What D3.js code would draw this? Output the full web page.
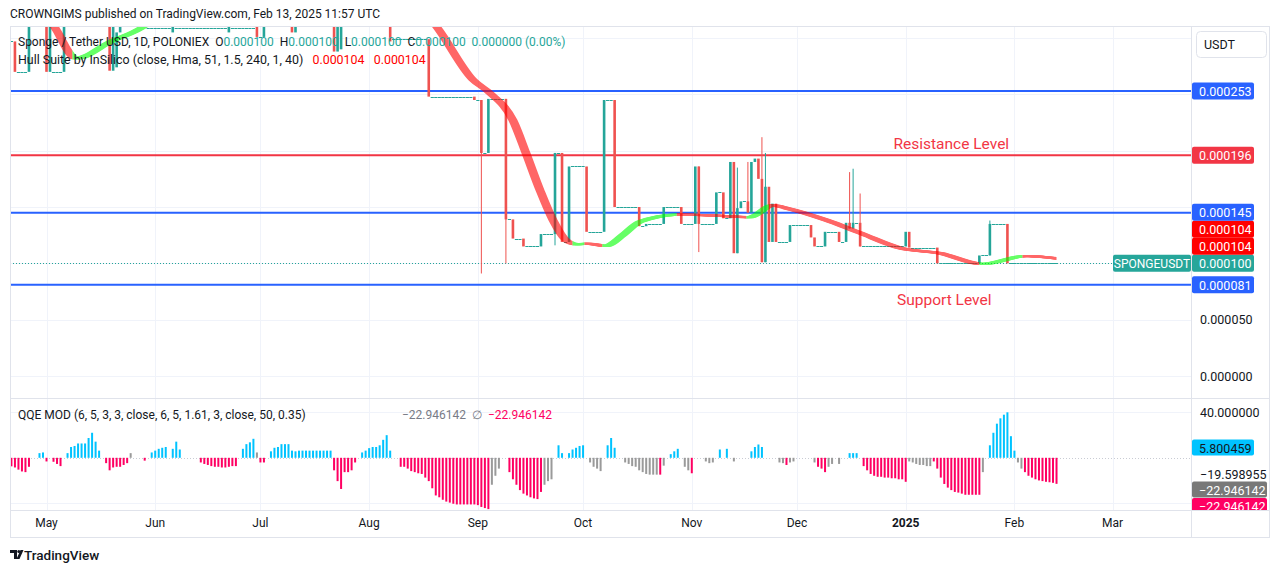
<!DOCTYPE html>
<html>
<head>
<meta charset="utf-8">
<script src="https://cdn.jsdelivr.net/npm/d3@7/dist/d3.min.js"></script>
<style>
html,body{margin:0;padding:0;background:#fff;}
svg{display:block;}
text{font-family:Roboto,"Liberation Sans",Arial,sans-serif;}
</style>
</head>
<body>
<svg id="chart" width="1281" height="573"></svg>
<script>
// ================= DATA =================
const firstCandleDate = "2024-04-21";   // index 0
// daily close, USDT x 1e6
const closeE6 = [
 297,270,270,270,270,350,345,355,350,352,
 270,345,270,270,270,335,340,338,345,342,
 348,350,345,348,352,350,345,345,271,345,
 305,340,338,335,330,325,320,318,315,309,
 309,309,309,309,309,309,315,309,309,309,
 309,309,309,309,309,309,309,309,309,309,
 309,309,315,309,309,309,309,309,309,309,
 301,301,330,335,340,338,342,340,336,335,
 305,330,335,338,340,342,345,343,340,342,
 340,340,288,340,342,342,345,348,350,348,
 345,342,340,338,340,342,338,335,297,299,
 299,299,299,299,299,299,299,299,299,248,
 248,248,248,248,248,248,248,248,248,248,
 248,248,245,245,198,198,246,246,246,246,
 246,139,139,122,122,122,115,115,115,115,
 115,126,126,126,126,198,198,119,119,186,
 186,186,186,186,128,128,128,128,128,245,
 245,245,150,150,150,150,150,150,150,133,
 133,135,135,135,135,135,150,150,150,150,
 150,135,135,135,135,186,135,135,135,135,
 135,163,163,140,140,190,109,149,155,155,
 145,190,193,175,101,168,119,153,119,119,
 119,119,134,134,134,134,134,134,123,115,
 115,115,128,128,128,128,119,119,136,131,
 136,136,115,115,115,115,115,115,115,115,
 115,115,115,115,115,128,114,114,114,114,
 114,114,114,114,100,100,100,100,100,100,
 100,100,100,100,100,100,107,107,107,135,
 135,135,135,135,100,100,100,100,100,100,
 100,100,100,100,100,100,100,100,100
];
// opens that differ from the previous close: [index, open x1e6]
const openOverrides = [[0,297],[12,270],[30,274],[39,309],[46,305],[47,309],[62,305],[63,309],[70,325],[94,290],[109,299]];
// wicks beyond the body
const wickIndex  = [134,141,155,196,207,210,214,215,239,240,242,279];
const wickHighE6 = [null,null,null,null,185,190,212,198,181,184,162,138];
const wickLowE6  = [91,100,116,110,null,null,null,null,null,null,null,null];

// Hull Suite line: day offset from 2024-05-01 and value x1e6
const hullDay = [-10,-4,1,7.4,17.4,27,35,50,80,95,103,110,120.6,125.5,132,135.7,139.7,143.4,147.1,150,153.4,158.5,163.3,168.3,179.7,189,199.6,206,210,221.3,231,242.4,253.8,266,278.3,288];
const hullE6  = [345,328,311,282,297,311,335,345,350,345,335,311,263,251,227,198,165,138.5,120.7,117,117.5,115.4,125,137,143.3,142.5,141,151.5,149,138.5,127,113.6,109,99.4,106.5,104];

// QQE MOD histogram (same days as candles), null = no bar
const qqeValues = [
 -7.5,-8.5,-10.4,-12,-12.6,-7.9,null,null,4.1,4.7,
 -3.2,null,-3.5,-5.4,-7.3,null,4.1,9.5,10.4,12.6,
 12.6,12.6,17.4,22,14.2,6.3,null,-4.7,-11,-8.5,
 -7.9,-7.9,-6.3,-4.7,4.1,null,null,null,-2.5,null,
 4.7,6.3,7.9,8.8,9.5,null,7.9,14.2,7.3,null,
 null,null,null,null,-4.1,-5.4,-6.3,-7.3,-7.9,-7.9,
 -8.5,-8.5,-7.9,-7.3,-7.3,null,7.9,12,13.6,16.7,
 4.7,-4.1,-4.1,null,5.7,8.8,9.5,12,12,12,
 6.3,5.7,6.3,6.3,6.3,6.3,6.3,6.3,6.3,6.3,
 6.3,6.3,-11,-20.5,-27.4,-12.6,-12.6,-11,-4.1,null,
 4.7,6.3,8.5,9.5,9.5,11,15.8,19.9,6.3,null,
 null,-7.9,-7.9,-9.5,-11.7,-12.6,-13.6,-14.2,-17.4,-20.5,
 -26.8,-33.1,-34.7,-36.9,-38.5,-39.4,-40.4,-41,-41,-41,
 -41,-41,-41,-41.6,-43.2,-44.2,-45.1,-23.7,-15.8,-9.5,
 null,null,-12.6,-18.9,-23.7,-28.4,-31.5,-33.1,-34.7,-35.7,
 -36.3,-30,-23.7,-20.5,-18.9,null,11,4.1,null,4.1,
 7.3,8.8,10.4,11,null,-4.1,-7.9,-9.5,-11.7,null,
 11,17.4,8.8,null,null,-4.1,-5.4,-7.3,-7.9,-11,
 -12.6,-14.2,-14.8,-14.8,-14.8,-14.8,-6.9,null,3.2,5.7,
 7.9,null,-7.9,-11,-13.6,null,null,null,-3.2,-4.7,
 -4.1,null,7.3,null,7.9,null,-3.2,null,null,null,
 null,5.7,9.5,11.7,9.5,null,null,null,null,-4.1,
 -4.7,-6.3,-4.1,-3.2,null,null,null,null,null,-4.1,
 -7.9,-9.5,-12.6,-7.9,-5.4,null,-5.4,null,null,4.1,
 4.1,4.1,null,-7.3,-11,-14.2,-15.8,-16.7,-16.7,-17.4,
 -17.4,-18,-18,-18.9,-18.9,-21.1,-3.2,-4.1,-5.4,-6.3,
 -6.3,-7.3,-7.3,-3.2,-9.5,-17.4,-23,-26.2,-28.4,-30,
 -30.6,-31.5,-32.5,-32.5,-32.5,-32.5,-32.5,-12.6,null,11,
 22,30,34.7,37.9,40,19,6.3,-4.1,-9.5,-12.6,
 -15.8,-17.4,-18.9,-19.9,-20.5,-21.1,-21.5,-22,-22.9
];
// b = blue (rising), p = pink (falling), g = gray (neutral), . = none
const qqeColorCodes =
 "pppppp..bb"+"p.ppp.bbbb"+"bbbbbb.ppp"+"ppppg...p."+"bbbbb.bbb."+
 "....pppppp"+"ppppp.bbbb"+"gpp.bbbbbb"+"bbbbbbbbbb"+"bbppppppp."+
 "bbbbbbbbb."+".ppppppppp"+"pppppppppp"+"pppppppggg"+"..pppppppp"+
 "ppggg.bb.b"+"bbbb.gggg."+"bbb..ggggg"+"gggggpg.bb"+"b.ggp...gg"+
 "g.b.b.g..."+".bbbb....g"+"gpgg.....g"+"pppgg.g..b"+"bb.ppppppp"+
 "ppppppgggg"+"gggppppppp"+"pppppppg.b"+"bbbbbbbggp"+"ppppppppp";

// horizontal drawings
const levelValues = [0.000253, 0.000196, 0.000145, 0.000081];
const levelColors = ["#2962ff", "#f23645", "#2962ff", "#2962ff"];
const noteTexts  = ["Resistance Level", "Support Level"];
const noteDates  = ["2025-01-14", "2025-01-12"];
const noteValues = [0.000206, 0.0000675];

const priceTicks = [0, 0.00005, 0.0001, 0.00015, 0.0002, 0.00025, 0.0003];
const lastPrice = 0.000100;
const hullLastValues = [0.000104, 0.000104];
const qqeGrid = [40, -40];
const qqeAxisTexts = [40, 0, -19.598955];
const qqeLastBlue = 5.800459;
const qqeLastGray = -22.946142;
const qqeLastPink = -22.946142;

// ================= LAYOUT =================
const L = 10, R = 1191, mainTop = 26, mainBot = 398, qBot = 510, axBot = 537, outerR = 1270;
const TEAL = "#26a69a", RED = "#ef5350", INK = "#131722";
const QC = {b: "#00c3ff", p: "#ff0062", g: "#9a9a9a"};

const svg = d3.select("#chart");
const parse = d3.utcParse("%Y-%m-%d");
const may1 = new Date(Date.UTC(2024, 4, 1));
const mar1 = new Date(Date.UTC(2025, 2, 1));
const xs = d3.scaleTime().domain([may1, mar1]).range([46.5, 46.5 + 3.507 * 304]);
const ys = d3.scaleLinear().domain([0, 0.000253]).range([376, 91]);
const qy = d3.scaleLinear().domain([0, 40]).range([457.8, 412.3]);

const start = parse(firstCandleDate);
const dates = closeE6.map((_, i) => d3.utcDay.offset(start, i));
const openE6 = closeE6.map((c, i) => i === 0 ? c : closeE6[i - 1]);
openOverrides.forEach(([i, v]) => { openE6[i] = v; });
if (qqeValues.length !== closeE6.length || qqeColorCodes.length !== closeE6.length)
  console.warn("length mismatch", closeE6.length, qqeValues.length, qqeColorCodes.length);

svg.append("rect").attr("width", 1281).attr("height", 573).attr("fill", "#fff");

const defs = svg.append("defs");
defs.append("clipPath").attr("id", "mainClip").append("rect")
  .attr("x", L).attr("y", mainTop).attr("width", R - L).attr("height", mainBot - mainTop);
defs.append("clipPath").attr("id", "qClip").append("rect")
  .attr("x", L).attr("y", mainBot).attr("width", R - L).attr("height", qBot - mainBot);
defs.append("clipPath").attr("id", "qAxisClip").append("rect")
  .attr("x", R).attr("y", mainBot).attr("width", outerR - R).attr("height", qBot - mainBot);

// ---- grid ----
const grid = svg.append("g").attr("stroke", "#f0f3fa").attr("stroke-width", 1);
const months = d3.utcMonth.range(may1, d3.utcMonth.offset(mar1, 1));
months.forEach(m => {
  const x = Math.round(xs(m)) + 0.5;
  grid.append("line").attr("x1", x).attr("x2", x).attr("y1", mainTop).attr("y2", qBot);
});
priceTicks.forEach(v => {
  const y = Math.round(ys(v)) + 0.5;
  grid.append("line").attr("x1", L).attr("x2", R).attr("y1", y).attr("y2", y);
});
qqeGrid.forEach(v => {
  const y = Math.round(qy(v)) + 0.5;
  grid.append("line").attr("x1", L).attr("x2", R).attr("y1", y).attr("y2", y);
});

// ---- main pane ----
const main = svg.append("g").attr("clip-path", "url(#mainClip)");

levelValues.forEach((v, k) => {
  main.append("line").attr("x1", L).attr("x2", R).attr("y1", ys(v)).attr("y2", ys(v))
    .attr("stroke", levelColors[k]).attr("stroke-width", 2);
});
main.append("line").attr("x1", L).attr("x2", 1113).attr("y1", Math.round(ys(lastPrice)) + 0.5)
  .attr("y2", Math.round(ys(lastPrice)) + 0.5).attr("stroke", TEAL).attr("stroke-width", 1)
  .attr("stroke-dasharray", "1,2");

// candles
const cw = 2.6;
const wickMap = new Map(wickIndex.map((i, k) => [i, [wickHighE6[k], wickLowE6[k]]]));
const cg = main.append("g");
dates.forEach((dt, i) => {
  const x = xs(dt);
  const o = openE6[i] * 1e-6, c = closeE6[i] * 1e-6;
  const up = c >= o;
  const col = up ? TEAL : RED;
  const w = wickMap.get(i);
  if (w) {
    const hi = w[0] != null ? w[0] * 1e-6 : Math.max(o, c);
    const lo = w[1] != null ? w[1] * 1e-6 : Math.min(o, c);
    cg.append("line").attr("x1", x).attr("x2", x).attr("y1", ys(hi)).attr("y2", ys(lo))
      .attr("stroke", col).attr("stroke-width", 1);
  }
  if (o === c) {
    const y = Math.round(ys(c)) + 0.5;
    cg.append("line").attr("x1", x - 1.6).attr("x2", x + 1.6).attr("y1", y).attr("y2", y)
      .attr("stroke", TEAL).attr("stroke-width", 1);
  } else {
    const y1 = ys(Math.max(o, c)), y2 = ys(Math.min(o, c));
    cg.append("rect").attr("x", x - cw / 2).attr("y", y1).attr("width", cw)
      .attr("height", Math.max(1, y2 - y1)).attr("fill", col);
  }
});

// Hull band
const hullPts = hullDay.map((d, k) => [xs(new Date(may1.getTime() + d * 864e5)), ys(hullE6[k] * 1e-6)]);
const hullPath = d3.line().curve(d3.curveMonotoneX)(hullPts);
const runs = [];
for (let k = 0; k < hullPts.length - 1; k++) {
  const upSeg = hullE6[k + 1] > hullE6[k];
  if (runs.length && runs[runs.length - 1].up === upSeg) runs[runs.length - 1].k1 = k + 1;
  else runs.push({up: upSeg, k0: k, k1: k + 1});
}
const xEnd = xs(dates[dates.length - 1]);
runs.forEach((r, n) => {
  const xa = n === 0 ? L : hullPts[r.k0][0];
  const xb = n === runs.length - 1 ? xEnd : hullPts[r.k1][0];
  const id = "hc" + n;
  defs.append("clipPath").attr("id", id).append("rect")
    .attr("x", xa).attr("y", mainTop).attr("width", Math.max(0, xb - xa)).attr("height", mainBot - mainTop);
  const g = main.append("g").attr("clip-path", `url(#${id})`).append("g").attr("opacity", 0.6);
  for (let s = 0; s <= 7; s++) {
    g.append("path").attr("d", hullPath).attr("transform", `translate(${s},0)`)
      .attr("fill", "none").attr("stroke", r.up ? "#00ff00" : "#ff0000").attr("stroke-width", 2);
  }
});

noteTexts.forEach((t, k) => {
  main.append("text").attr("x", xs(parse(noteDates[k]))).attr("y", ys(noteValues[k]))
    .attr("text-anchor", "middle").attr("dominant-baseline", "central")
    .attr("font-size", 15.5).attr("fill", "#f23645").text(t);
});

// ---- QQE pane ----
const qg = svg.append("g").attr("clip-path", "url(#qClip)");
qg.append("line").attr("x1", L).attr("x2", R).attr("y1", Math.round(qy(0)) + 0.5).attr("y2", Math.round(qy(0)) + 0.5)
  .attr("stroke", "#c9ccd4").attr("stroke-width", 1).attr("stroke-dasharray", "1,2");
dates.forEach((dt, i) => {
  const v = qqeValues[i];
  if (v == null) return;
  const x = xs(dt);
  const y0 = qy(0), y1 = qy(v);
  qg.append("rect").attr("x", x - 1).attr("width", 2)
    .attr("y", Math.min(y0, y1)).attr("height", Math.abs(y1 - y0))
    .attr("fill", QC[qqeColorCodes[i]]);
});

// ---- frame lines ----
const frame = svg.append("g").attr("stroke", "#e0e3eb").attr("stroke-width", 1).attr("fill", "none");
frame.append("rect").attr("x", L + 0.5).attr("y", mainTop + 0.5).attr("width", outerR - L - 1).attr("height", axBot - mainTop);
frame.append("line").attr("x1", R + 0.5).attr("x2", R + 0.5).attr("y1", mainTop).attr("y2", axBot);
frame.append("line").attr("x1", L).attr("x2", outerR).attr("y1", mainBot + 0.5).attr("y2", mainBot + 0.5);
frame.append("line").attr("x1", L).attr("x2", outerR).attr("y1", qBot + 0.5).attr("y2", qBot + 0.5);

// ---- header + legends ----
svg.append("text").attr("x", 10).attr("y", 14).attr("dominant-baseline", "central")
  .attr("font-size", 12).attr("fill", INK).text("CROWNGIMS published on TradingView.com, Feb 13, 2025 11:57 UTC");

function legend(y, parts, x0, fs) {
  const t = svg.append("text").attr("x", x0).attr("y", y).attr("dominant-baseline", "central")
    .attr("font-size", fs || 12).attr("xml:space", "preserve");
  parts.forEach(p => t.append("tspan").attr("fill", p[1]).text(p[0]));
  return t;
}
const fmt6 = d3.format(".6f");
legend(42, [["Sponge / Tether USD, 1D, POLONIEX  ", INK], ["O", INK], [fmt6(lastPrice), TEAL],
  ["  H", INK], [fmt6(lastPrice), TEAL], ["  L", INK], [fmt6(lastPrice), TEAL],
  ["  C", INK], [fmt6(lastPrice), TEAL], ["  0.000000 (0.00%)", TEAL]], 18);
legend(59, [["Hull Suite by InSilico (close, Hma, 51, 1.5, 240, 1, 40)   ", INK],
  [fmt6(hullLastValues[0]), "#ff0000"], ["   " + fmt6(hullLastValues[1]), "#ff0000"]], 18, 12.4);
const qfmt = v => (v < 0 ? "\u2212" : "") + d3.format(".6f")(Math.abs(v));
legend(415, [["QQE MOD (6, 5, 3, 3, close, 6, 5, 1.61, 3, close, 50, 0.35)", INK]], 18);
legend(415, [[qfmt(qqeLastGray), "#787b86"], ["  \u2205  ", "#787b86"], [qfmt(qqeLastPink), "#ff0062"]], 402);

// ---- price axis ----
const ax = svg.append("g");
const pLabels = [
  {v: levelValues[3], c: levelColors[3]},
  {v: lastPrice, c: TEAL},
  {v: hullLastValues[0], c: "#ff0000"},
  {v: hullLastValues[1], c: "#ff0000"},
  {v: levelValues[2], c: levelColors[2]},
  {v: levelValues[1], c: levelColors[1]},
  {v: levelValues[0], c: levelColors[0]}
];
let prevC = 1e9;
pLabels.forEach(l => { l.yc = Math.min(ys(l.v), prevC - 17); prevC = l.yc; });
const USDT_BOX = [31.5, 57.5];
priceTicks.forEach(v => {
  const y = ys(v);
  const covered = pLabels.some(l => Math.abs(l.yc - y) < 14) || (y > USDT_BOX[0] - 6 && y < USDT_BOX[1] + 6);
  if (covered) return;
  ax.append("text").attr("x", 1200).attr("y", y).attr("dominant-baseline", "central")
    .attr("font-size", 12.5).attr("fill", INK).text(d3.format(".6f")(v));
});
ax.append("rect").attr("x", 1196.5).attr("y", USDT_BOX[0]).attr("width", 70).attr("height", 26).attr("rx", 4)
  .attr("fill", "#fff").attr("stroke", "#e0e3eb");
ax.append("text").attr("x", 1204).attr("y", 44.5).attr("dominant-baseline", "central")
  .attr("font-size", 12.5).attr("fill", INK).text("USDT");
pLabels.forEach(l => {
  const yc = l.yc;
  ax.append("rect").attr("x", 1192).attr("y", yc - 8.5).attr("width", 62).attr("height", 17).attr("rx", 2).attr("fill", l.c);
  ax.append("text").attr("x", 1199).attr("y", yc + 0.5).attr("dominant-baseline", "central")
    .attr("font-size", 12.5).attr("fill", "#fff").text(fmt6(l.v));
  if (l.v === lastPrice) {
    ax.append("rect").attr("x", 1113).attr("y", yc - 8.5).attr("width", 78).attr("height", 17).attr("rx", 2).attr("fill", TEAL);
    ax.append("text").attr("x", 1152).attr("y", yc + 0.5).attr("text-anchor", "middle").attr("dominant-baseline", "central")
      .attr("font-size", 12).attr("fill", "#fff").text("SPONGEUSDT");
  }
});

// ---- QQE axis ----
const qax = svg.append("g").attr("clip-path", "url(#qAxisClip)");
const qBoxes = [
  {v: qqeLastBlue, c: QC.b, t: INK, nudge: -3.7, w: 62},
  {v: qqeLastGray, c: "#787878", t: "#fff", nudge: 5.6, w: 75},
  {v: qqeLastPink, c: "#ff0062", t: "#fff", nudge: 22, w: 75}
];
const qTextNudge = [0, 3, -6];
qqeAxisTexts.forEach((v, k) => {
  const y = qy(v) + qTextNudge[k];
  if (qBoxes.some(b => Math.abs(qy(b.v) + b.nudge - y) < 14)) return;
  qax.append("text").attr("x", 1200).attr("y", y).attr("dominant-baseline", "central")
    .attr("font-size", 12.5).attr("fill", INK).text(qfmt(v));
});
qBoxes.forEach(b => {
  const yc = qy(b.v) + b.nudge;
  qax.append("rect").attr("x", 1192).attr("y", yc - 8).attr("width", b.w).attr("height", 16).attr("rx", 2).attr("fill", b.c);
  qax.append("text").attr("x", 1199).attr("y", yc + 0.5).attr("dominant-baseline", "central")
    .attr("font-size", 12.5).attr("fill", b.t).text(qfmt(b.v));
});

// ---- time axis ----
months.forEach(m => {
  const isYear = m.getUTCMonth() === 0;
  svg.append("text").attr("x", xs(m)).attr("y", 523).attr("text-anchor", "middle").attr("dominant-baseline", "central")
    .attr("font-size", 12).attr("font-weight", isYear ? 700 : 400).attr("fill", INK)
    .text(isYear ? d3.utcFormat("%Y")(m) : d3.utcFormat("%b")(m));
});

// ---- TradingView footer ----
const logo = svg.append("g").attr("fill", INK);
logo.append("path").attr("d", "M10 550h7v9h-3v-6h-4z");
logo.append("circle").attr("cx", 18.8).attr("cy", 551.5).attr("r", 1.5);
logo.append("path").attr("d", "M20.5 550h3l-4 9h-3z");
svg.append("text").attr("x", 24).attr("y", 555).attr("dominant-baseline", "central")
  .attr("font-size", 13.5).attr("font-weight", 500).attr("fill", INK).text("TradingView");
</script>
</body>
</html>
